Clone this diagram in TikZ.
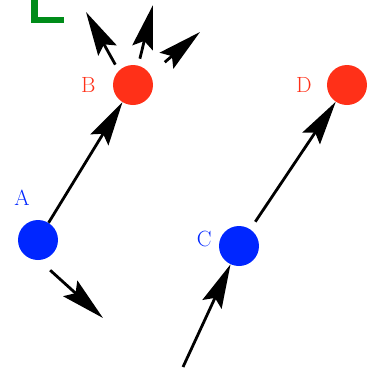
\documentclass[tikz,border=0pt]{standalone}
\usepackage{xcolor}
\usepackage{tikz}
\usetikzlibrary{arrows.meta, positioning}
\definecolor{PtBlue}{RGB}{0,38,255}
\definecolor{PtRed}{RGB}{255,48,24}
\definecolor{MarkGreen}{RGB}{0,140,25}

\begin{document}
\begin{tikzpicture}[
    x=1pt, y=-1pt,
    pt/.style={circle, inner sep=0pt, minimum size=40pt},
    bluept/.style={pt, fill=PtBlue},
    redpt/.style={pt, fill=PtRed},
    lbl/.style={inner sep=0pt, font=\fontsize{22}{22}\selectfont},
    arr/.style={-{Stealth[length=44pt, width=21pt, inset=7pt]}, line width=2.8pt, black}
]
\useasboundingbox (0,0) rectangle (367,368);

% corner mark
\draw[MarkGreen, line width=6.5pt] (34.3,-5) -- (34.3,20) -- (64.3,20);

% points
\node[bluept] (a) at (38,240) {};
\node[redpt]  (b) at (133,85) {};
\node[bluept] (c) at (239,246) {};
\node[redpt]  (d) at (347,85) {};

\node[lbl, text=PtBlue, above=14pt of a, xshift=-16pt] (la) {A};
\node[lbl, text=PtRed,  left=17pt of b]                (lb) {B};
\node[lbl, text=PtBlue, left=7pt of c, yshift=7pt]     (lc) {C};
\node[lbl, text=PtRed,  left=15pt of d]                (ld) {D};

% free ends
\coordinate (b1) at (86,12);
\coordinate (b2) at (153,5);
\coordinate (b3) at (200,32);
\coordinate (a1) at (103,318);
\coordinate (c0) at (183,367);

\draw[arr] (a) -- (b);
\draw[arr, shorten <=9pt] (c) -- (d);
\draw[arr, shorten <=7pt] (b.135) -- (b1);
\draw[arr, shorten <=7pt] (b.75) -- (b2);
\draw[arr, shorten <=19pt] (b.31) -- (b3);
\draw[arr, shorten <=15pt] (a.-87) -- (a1);
\draw[arr] (c0) -- (c);
\end{tikzpicture}
\end{document}
